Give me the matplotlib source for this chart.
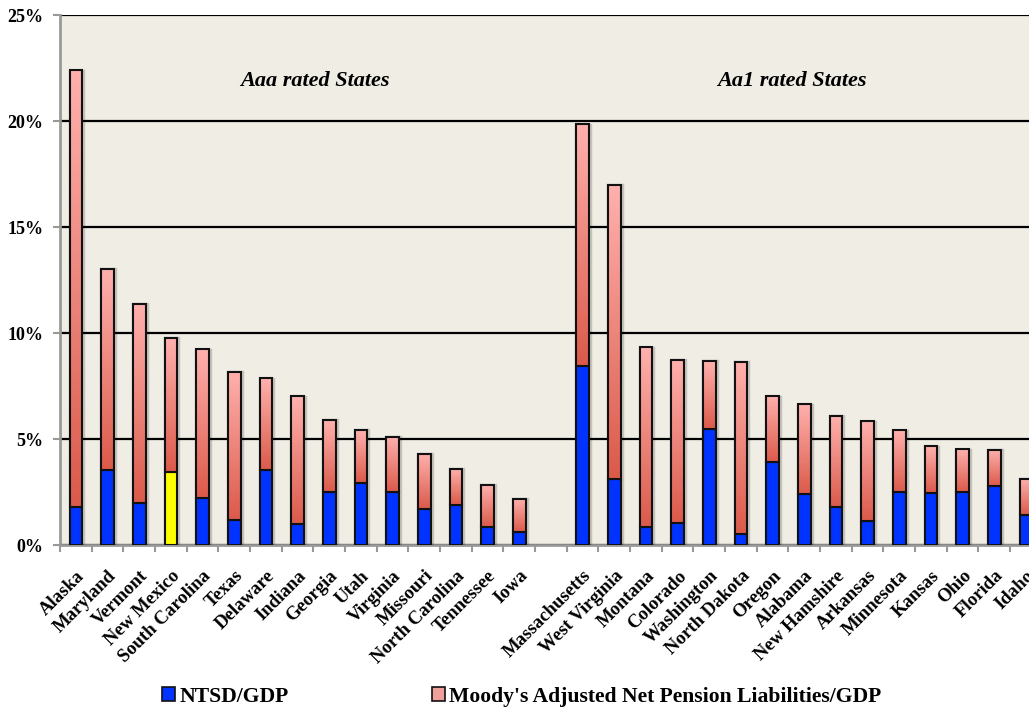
import numpy as np
import matplotlib
matplotlib.use("Agg")
import matplotlib.pyplot as plt
from matplotlib.patches import Patch
from matplotlib.colors import LinearSegmentedColormap
from matplotlib.transforms import ScaledTranslation

# Debt figures as % of state GDP
aaa_states = ["Alaska", "Maryland", "Vermont", "New Mexico", "South Carolina", "Texas",
              "Delaware", "Indiana", "Georgia", "Utah", "Virginia", "Missouri",
              "North Carolina", "Tennessee", "Iowa"]
aaa_ntsd = [1.78, 3.52, 1.97, 3.46, 2.22, 1.16, 3.55, 0.99, 2.52, 2.92, 2.50, 1.70, 1.90, 0.83, 0.60]
aaa_total = [22.39, 13.03, 11.38, 9.78, 9.23, 8.18, 7.86, 7.01, 5.90, 5.42, 5.11, 4.31, 3.60, 2.83, 2.18]

aa1_states = ["Massachusetts", "West Virginia", "Montana", "Colorado", "Washington",
              "North Dakota", "Oregon", "Alabama", "New Hamshire", "Arkansas", "Minnesota",
              "Kansas", "Ohio", "Florida", "Idaho"]
aa1_ntsd = [8.43, 3.11, 0.83, 1.04, 5.49, 0.50, 3.92, 2.42, 1.81, 1.15, 2.50, 2.45, 2.50, 2.78, 1.42]
aa1_total = [19.84, 17.00, 9.32, 8.74, 8.68, 8.62, 7.01, 6.63, 6.10, 5.83, 5.41, 4.65, 4.51, 4.50, 3.13]

series_labels = ["NTSD/GDP", "Moody's Adjusted Net Pension Liabilities/GDP"]
group_titles = ["Aaa rated States", "Aa1 rated States"]
highlight_state = "New Mexico"

# One empty slot separates the two rating groups
labels = aaa_states + [""] + aa1_states
ntsd = np.array(aaa_ntsd + [np.nan] + aa1_ntsd)
total = np.array(aaa_total + [np.nan] + aa1_total)
pension = total - ntsd
x = np.arange(len(labels))
valid = ~np.isnan(ntsd)

plt.rcParams["font.family"] = ["Liberation Serif", "DejaVu Serif"]
plt.rcParams["font.weight"] = "bold"

W, H = 1029, 710
fig = plt.figure(figsize=(W / 100, H / 100), dpi=100)
fig.patch.set_facecolor("white")
slot = 31.67
ax = fig.add_axes([60 / W, 165 / H, len(labels) * slot / W, 530 / H])
ax.set_facecolor("#f0ede5")

blue = "#0033ff"
yellow = "#ffff00"
edge = "#111111"
bw = 0.4

xv = x[valid]
base_colors = [yellow if lab == highlight_state else blue for lab, v in zip(labels, valid) if v]

# Soft drop shadow behind each column
shadow_off = ax.transData + ScaledTranslation(1.2 / 100, -1.2 / 100, fig.dpi_scale_trans)
ax.bar(xv, total[valid], width=bw, facecolor="none", edgecolor=(0, 0, 0, 0.18),
       linewidth=3.2, zorder=2.8, transform=shadow_off)

blue_bars = ax.bar(xv, ntsd[valid], width=bw, color=base_colors,
                   edgecolor=edge, linewidth=1.5, zorder=3)
pink_bars = ax.bar(xv, pension[valid], bottom=ntsd[valid], width=bw, facecolor="none",
                   edgecolor=edge, linewidth=1.5, zorder=4)

# Vertical light-to-dark fill inside each pension segment
pink_cmap = LinearSegmentedColormap.from_list("pinkgrad", ["#db5a4a", "#ffb1ae"])
grad = np.linspace(0, 1, 256).reshape(-1, 1)
for p in pink_bars:
    x0, y0 = p.get_x(), p.get_y()
    w, h = p.get_width(), p.get_height()
    im = ax.imshow(grad, cmap=pink_cmap, origin="lower", aspect="auto",
                   extent=(x0, x0 + w, y0, y0 + h), zorder=3.5, interpolation="bilinear")
    im.set_clip_path(p)

ax.set_xlim(-0.5, len(labels) - 0.5)
ax.set_ylim(0, 25)

# Grid and spines
ax.set_yticks(np.arange(0, 26, 5))
ax.set_yticklabels([f"{v}%" for v in range(0, 26, 5)], fontsize=13, fontweight="bold")
ax.yaxis.grid(True, color="black", linewidth=1.6)
ax.set_axisbelow(True)
for s in ["top", "right"]:
    ax.spines[s].set_visible(False)
for s in ["left", "bottom"]:
    ax.spines[s].set_color("#999999")
    ax.spines[s].set_linewidth(2)
ax.tick_params(axis="y", which="major", length=5, width=1.5, color="#999999", pad=7)

ax.set_xticks(xv)
ax.set_xticklabels([l for l, v in zip(labels, valid) if v], rotation=45, ha="right",
                   va="top", rotation_mode="anchor", fontsize=13.5, fontweight="bold")
ax.tick_params(axis="x", which="major", length=0, pad=16)
ax.set_xticks(np.arange(-0.5, len(labels), 1), minor=True)
ax.tick_params(axis="x", which="minor", length=5, width=1.5, color="#999999")

# Group captions
ax.text(7.55, 21.9, group_titles[0], ha="center", va="center", fontsize=16,
        fontweight="bold", fontstyle="italic")
ax.text(22.6, 21.9, group_titles[1], ha="center", va="center", fontsize=16,
        fontweight="bold", fontstyle="italic")

handles = [Patch(facecolor=blue, edgecolor=edge, linewidth=1.2),
           Patch(facecolor="#f0a09a", edgecolor=edge, linewidth=1.2)]
fig.legend(handles, series_labels, loc="center", bbox_to_anchor=(522 / W, 13 / H), ncol=2,
           frameon=False, prop={"size": 15.6, "weight": "bold"}, handlelength=0.6,
           handleheight=0.6, handletextpad=0.2, columnspacing=6.6)

fig.savefig("out.png", dpi=100)
